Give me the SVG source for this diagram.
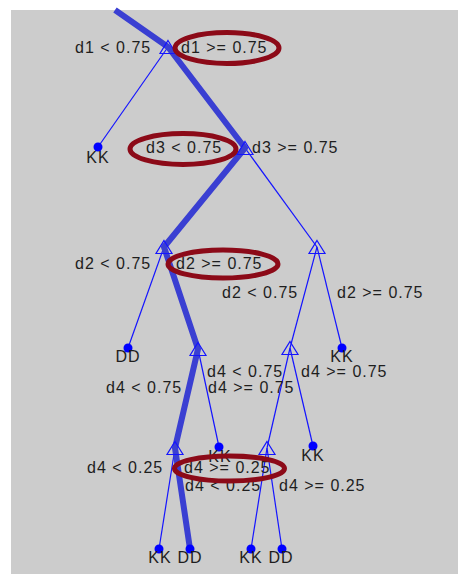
<svg xmlns="http://www.w3.org/2000/svg" width="458" height="574" viewBox="0 0 458 574">
<style>
.thin{stroke:#1414ff;stroke-width:1.2;fill:none}
.thick{stroke:#3a3fd2;stroke-width:6;fill:none;stroke-linejoin:round}
.tri{fill:none;stroke:#1414ff;stroke-width:1.2}
.dot{fill:#0000ff}
text{font-family:"Liberation Sans",Arial,sans-serif;font-size:16px;letter-spacing:1px;fill:#1e1e1e}
.leaf{text-anchor:middle}
.ring{fill:none;stroke:#8c0a18;stroke-width:5}
</style>
<defs>
<path id="tri" d="M0,-6.5 L8,6.5 L-8,6.5 Z" class="tri"/>
</defs>
<rect x="0" y="0" width="458" height="574" fill="#ffffff"/>
<rect x="11" y="10" width="447" height="564" fill="#cccccc"/>
<g id="connectors">
<line class="thin" x1="168" y1="47" x2="98" y2="147"/>
<line class="thin" x1="245" y1="148" x2="317" y2="247"/>
<line class="thin" x1="164" y1="247" x2="128" y2="348"/>
<line class="thin" x1="317" y1="247" x2="290" y2="348"/>
<line class="thin" x1="317" y1="247" x2="342" y2="348"/>
<line class="thin" x1="198" y1="349" x2="219" y2="447"/>
<line class="thin" x1="290" y1="348" x2="267" y2="448"/>
<line class="thin" x1="290" y1="348" x2="313" y2="446"/>
<line class="thin" x1="175" y1="448" x2="159" y2="549"/>
<line class="thin" x1="267" y1="448" x2="251" y2="549"/>
<line class="thin" x1="267" y1="448" x2="282" y2="549"/>
<polyline class="thick" points="115,10 168,47 245,148 164,247 198,349 175,448 190,549"/>
</g>
<g id="n_root"><use href="#tri" x="168" y="47"/></g>
<g id="n_d3"><use href="#tri" x="245" y="148"/></g>
<g id="n_d2_left"><use href="#tri" x="164" y="247"/></g>
<g id="n_d2_right"><use href="#tri" x="317" y="247"/></g>
<g id="n_d4_a"><use href="#tri" x="198" y="349"/></g>
<g id="n_d4_b"><use href="#tri" x="290" y="348"/></g>
<g id="n_d4_c"><use href="#tri" x="175" y="448"/></g>
<g id="n_d4_d"><use href="#tri" x="267" y="448"/></g>
<g id="leaf1"><circle class="dot" cx="98" cy="147" r="4.5"/><text class="leaf" x="98" y="163">KK</text></g>
<g id="leaf2"><circle class="dot" cx="128" cy="348" r="4.5"/><text class="leaf" x="128" y="362">DD</text></g>
<g id="leaf3"><circle class="dot" cx="342" cy="348" r="4.5"/><text class="leaf" x="342" y="362">KK</text></g>
<g id="leaf4"><circle class="dot" cx="219" cy="447" r="4.5"/><text class="leaf" x="220" y="462">KK</text></g>
<g id="leaf5"><circle class="dot" cx="313" cy="446" r="4.5"/><text class="leaf" x="313" y="461">KK</text></g>
<g id="leaf6"><circle class="dot" cx="159" cy="549" r="4.5"/><text class="leaf" x="160" y="563">KK</text></g>
<g id="leaf7"><circle class="dot" cx="190" cy="549" r="4.5"/><text class="leaf" x="190" y="563">DD</text></g>
<g id="leaf8"><circle class="dot" cx="251" cy="549" r="4.5"/><text class="leaf" x="251" y="563">KK</text></g>
<g id="leaf9"><circle class="dot" cx="282" cy="549" r="4.5"/><text class="leaf" x="281" y="563">DD</text></g>
<g id="edge-labels">
<text x="75" y="53">d1 &lt; 0.75</text>
<text x="181" y="53">d1 &gt;= 0.75</text>
<text x="146" y="153">d3 &lt; 0.75</text>
<text x="252" y="153">d3 &gt;= 0.75</text>
<text x="75" y="269">d2 &lt; 0.75</text>
<text x="176" y="269">d2 &gt;= 0.75</text>
<text x="222" y="298">d2 &lt; 0.75</text>
<text x="337" y="298">d2 &gt;= 0.75</text>
<text x="207" y="377">d4 &lt; 0.75</text>
<text x="301" y="377">d4 &gt;= 0.75</text>
<text x="106" y="393">d4 &lt; 0.75</text>
<text x="208" y="393">d4 &gt;= 0.75</text>
<text x="87" y="473">d4 &lt; 0.25</text>
<text x="184" y="473">d4 &gt;= 0.25</text>
<text x="185" y="491">d4 &lt; 0.25</text>
<text x="279" y="491">d4 &gt;= 0.25</text>
</g>
<g id="highlights">
<ellipse class="ring" cx="227" cy="48" rx="52" ry="15.5"/>
<ellipse class="ring" cx="183" cy="149" rx="53" ry="15.5"/>
<ellipse class="ring" cx="223" cy="264" rx="55" ry="14"/>
<ellipse class="ring" cx="229.5" cy="468.5" rx="55" ry="12.5"/>
</g>
</svg>
